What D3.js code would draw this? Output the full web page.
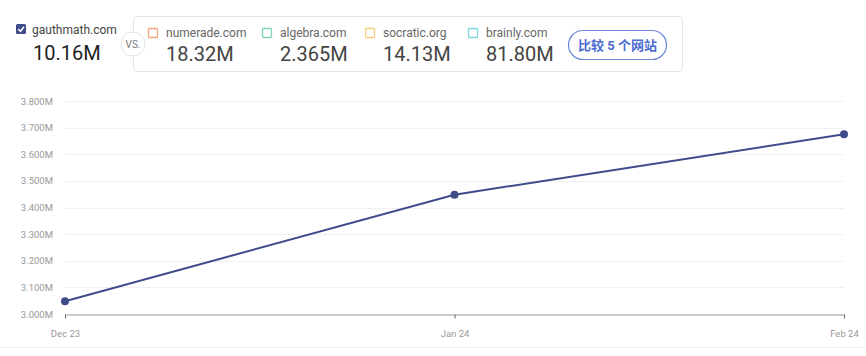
<!DOCTYPE html>
<html><head><meta charset="utf-8">
<script src="https://cdn.jsdelivr.net/npm/d3@7"></script>
<style>
html,body{margin:0;padding:0;background:#fff;}
svg{display:block;font-family:Roboto,"Noto Sans CJK SC",sans-serif;}
</style></head>
<body><svg id="c" width="866" height="356"></svg>
<script>
const months = ["Dec 23", "Jan 24", "Feb 24"];
const visits = [3.048e6, 3.448e6, 3.675e6];
const yTicks = [3.0e6, 3.1e6, 3.2e6, 3.3e6, 3.4e6, 3.5e6, 3.6e6, 3.7e6, 3.8e6];
const mainSite = "gauthmath.com";
const mainValue = "10.16M";
const rivals = ["numerade.com", "algebra.com", "socratic.org", "brainly.com"];
const rivalValues = ["18.32M", "2.365M", "14.13M", "81.80M"];
const rivalColors = ["#f2a677", "#7fd3bd", "#f6cf78", "#7dd6dd"];
const buttonText = "比较 5 个网站";

const svg = d3.select("#c");

// Header
svg.append("rect").attr("x",16).attr("y",24).attr("width",10).attr("height",10).attr("rx",1.5).attr("fill","#3f4c8a");
svg.append("path").attr("d","M18.3,29 L20.5,31.3 L24,26.8").attr("fill","none").attr("stroke","#fff").attr("stroke-width",1.5);
svg.append("text").attr("x",32).attr("y",34).attr("font-size",12).attr("fill","#444").text(mainSite);
svg.append("text").attr("x",33).attr("y",60).attr("font-size",20).attr("fill","#222").text(mainValue);

svg.append("rect").attr("x",133.5).attr("y",16.5).attr("width",549).attr("height",55).attr("rx",4)
  .attr("fill","#fff").attr("stroke","#e2e2e2");
svg.append("circle").attr("cx",133).attr("cy",44).attr("r",12).attr("fill","#fff").attr("stroke","#e2e2e2");
svg.append("text").attr("x",133).attr("y",47.5).attr("text-anchor","middle").attr("font-size",10).attr("fill","#777").text("VS.");

const rx = [148, 262, 365, 468];
rivals.forEach((r,i)=>{
  svg.append("rect").attr("x",rx[i]+0.5).attr("y",28.5).attr("width",9).attr("height",9).attr("rx",1)
    .attr("fill","none").attr("stroke",rivalColors[i]).attr("stroke-width",1.3);
  svg.append("text").attr("x",rx[i]+18).attr("y",37).attr("font-size",12).attr("fill","#666").text(r);
  svg.append("text").attr("x",rx[i]+18).attr("y",61).attr("font-size",20).attr("fill","#444").text(rivalValues[i]);
});
svg.append("rect").attr("x",568.5).attr("y",30.5).attr("width",98).attr("height",29).attr("rx",14.5)
  .attr("fill","#fff").attr("stroke","#6a86d6").attr("stroke-width",1.2);
svg.append("text").attr("x",617.5).attr("y",50).attr("text-anchor","middle").attr("font-size",13)
  .attr("font-weight","bold").attr("fill","#4b6bd0").text(buttonText);

// Chart
const x = d3.scalePoint().domain(months).range([65, 844]);
const y = d3.scaleLinear().domain([3.0e6, 3.8e6]).range([314, 101]);
const fmt = d => (d/1e6).toFixed(3) + "M";

const g = svg.append("g");
g.selectAll("line.grid").data(yTicks.slice(1)).join("line")
  .attr("x1",65).attr("x2",844).attr("y1",d=>Math.round(y(d))+0.5).attr("y2",d=>Math.round(y(d))+0.5)
  .attr("stroke","#f0f0f0");

const yAxis = g.append("g").attr("transform","translate(55,0)")
  .call(d3.axisLeft(y).tickValues(yTicks).tickFormat(fmt).tickSize(0).tickPadding(2));
yAxis.select(".domain").remove();
yAxis.selectAll("text").attr("font-size",9.5).attr("fill","#999").attr("font-family","Roboto,sans-serif");

const xAxis = g.append("g").attr("transform","translate(0,314.5)")
  .call(d3.axisBottom(x).tickSize(4).tickSizeOuter(0).tickPadding(12));
xAxis.select(".domain").attr("stroke","#999").attr("stroke-width",1.2);
xAxis.selectAll(".tick line").attr("stroke","#666");
xAxis.selectAll("text").attr("font-size",9.5).attr("fill","#999").attr("font-family","Roboto,sans-serif");

const line = d3.line().x((d,i)=>x(months[i])).y(d=>y(d));
g.append("path").datum(visits).attr("d",line).attr("fill","none").attr("stroke","#3f4c8a").attr("stroke-width",2);
g.selectAll("circle.pt").data(visits).join("circle")
  .attr("cx",(d,i)=>x(months[i])).attr("cy",d=>y(d)).attr("r",4).attr("fill","#3f4c8a");

svg.append("line").attr("x1",0).attr("x2",866).attr("y1",347.5).attr("y2",347.5).attr("stroke","#f2f2f2");
</script></body></html>
